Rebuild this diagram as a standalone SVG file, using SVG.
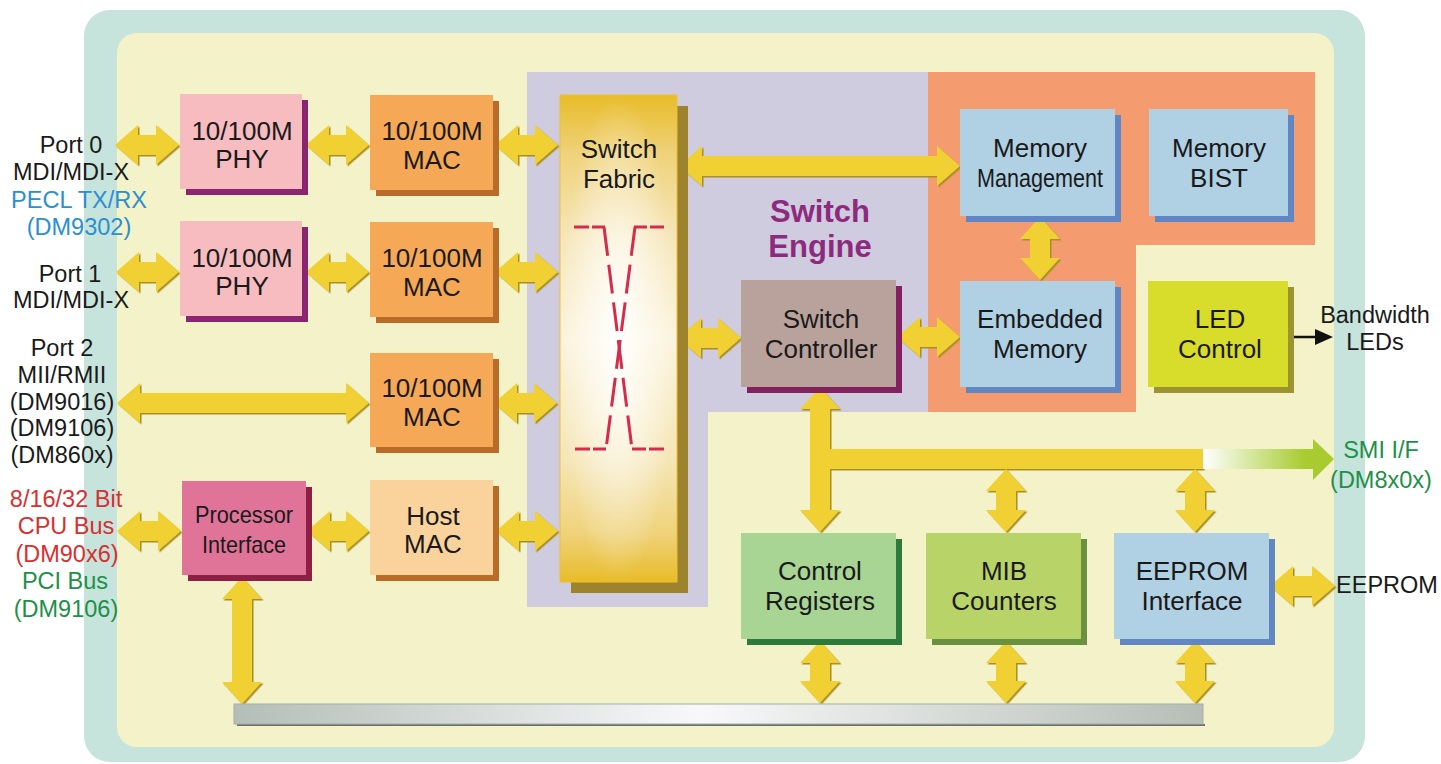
<svg xmlns="http://www.w3.org/2000/svg" width="1441" height="764" viewBox="0 0 1441 764">
<style>
.t{font-family:"Liberation Sans",Arial,sans-serif;font-size:23.5px;fill:#1a1a1a;text-anchor:middle}
.b{font-size:26px}
.eng{font-family:"Liberation Sans",Arial,sans-serif;font-size:31px;font-weight:bold;fill:#8e2a7e;text-anchor:middle}
.blue{fill:#2a90d0}.red{fill:#d83030}.green{fill:#1e9048}
.arr{fill:#f0d030;filter:url(#bev)}
.dash{fill:none;stroke:#d42c4a;stroke-width:3}
</style>
<defs>
<filter id="bev" x="-10%" y="-10%" width="130%" height="130%">
<feDropShadow dx="1.5" dy="1.5" stdDeviation="0" flood-color="#a88e28"/>
</filter>
<linearGradient id="fabV" x1="0" y1="0" x2="0" y2="1">
<stop offset="0" stop-color="#e8bc28"/>
<stop offset="0.12" stop-color="#efd27a"/>
<stop offset="0.3" stop-color="#f6e7bc"/>
<stop offset="0.5" stop-color="#fbf3dc"/>
<stop offset="0.75" stop-color="#f5e6b6"/>
<stop offset="0.9" stop-color="#efd27a"/>
<stop offset="1" stop-color="#e8bc28"/>
</linearGradient>
<radialGradient id="fabR" cx="0.5" cy="0.5" r="0.5">
<stop offset="0" stop-color="#ffffff" stop-opacity="1"/>
<stop offset="0.5" stop-color="#ffffff" stop-opacity="0.5"/>
<stop offset="1" stop-color="#ffffff" stop-opacity="0"/>
</radialGradient>
<linearGradient id="busG" x1="0" y1="0" x2="1" y2="0">
<stop offset="0" stop-color="#b4beb8"/>
<stop offset="0.48" stop-color="#f8f8fa"/>
<stop offset="1" stop-color="#b6beb6"/>
</linearGradient>
<linearGradient id="smiG" gradientUnits="userSpaceOnUse" x1="1203" y1="0" x2="1305" y2="0">
<stop offset="0" stop-color="#ffffff"/>
<stop offset="1" stop-color="#a8cc30"/>
</linearGradient>
</defs>

<g id="background">
<rect x="84" y="10" width="1281" height="752" rx="26" fill="#c6e4dc"/>
<rect x="117" y="33" width="1217" height="714" rx="20" fill="#f4f2c8"/>
<path d="M527,72 H928 V412 H708 V607 H527 Z" fill="#cfcce0"/>
<path d="M928,72 H1315 V245 H1136 V412 H928 Z" fill="#f49c70"/>
<text class="eng" x="820" y="222">Switch</text>
<text class="eng" x="820" y="257">Engine</text>
</g>

<g id="labels">
<text class="t" x="71" y="153">Port 0</text>
<text class="t" x="71" y="180">MDI/MDI-X</text>
<text class="t blue" x="79" y="208">PECL TX/RX</text>
<text class="t blue" x="79" y="235">(DM9302)</text>
<text class="t" x="70" y="282">Port 1</text>
<text class="t" x="71" y="308">MDI/MDI-X</text>
<text class="t" x="62" y="356">Port 2</text>
<text class="t" x="62" y="383">MII/RMII</text>
<text class="t" x="62" y="410">(DM9016)</text>
<text class="t" x="62" y="436">(DM9106)</text>
<text class="t" x="62" y="463">(DM860x)</text>
<text class="t red" x="66" y="507">8/16/32 Bit</text>
<text class="t red" x="66" y="534">CPU Bus</text>
<text class="t red" x="67" y="562">(DM90x6)</text>
<text class="t green" x="65" y="589">PCI Bus</text>
<text class="t green" x="66" y="617">(DM9106)</text>
<text class="t" x="1375" y="323">Bandwidth</text>
<text class="t" x="1375" y="350">LEDs</text>
<text class="t green" x="1381" y="458">SMI I/F</text>
<text class="t green" x="1381" y="488">(DM8x0x)</text>
<text class="t" x="1387" y="593">EEPROM</text>
</g>

<g id="connectors">
<path class="arr" d="M115,145 L138,125 L138,135 L156,135 L156,125 L179,145 L156,165 L156,155 L138,155 L138,165 Z"/>
<path class="arr" d="M306,145 L329,125 L329,135 L346,135 L346,125 L369,145 L346,165 L346,155 L329,155 L329,165 Z"/>
<path class="arr" d="M495,145 L518,125 L518,135 L535,135 L535,125 L558,145 L535,165 L535,155 L518,155 L518,165 Z"/>
<path class="arr" d="M116,272 L139,252 L139,262 L156,262 L156,252 L179,272 L156,292 L156,282 L139,282 L139,292 Z"/>
<path class="arr" d="M306,272 L329,252 L329,262 L346,262 L346,252 L369,272 L346,292 L346,282 L329,282 L329,292 Z"/>
<path class="arr" d="M495,272 L518,252 L518,262 L535,262 L535,252 L558,272 L535,292 L535,282 L518,282 L518,292 Z"/>
<path class="arr" d="M117,403 L140,383 L140,393 L346,393 L346,383 L369,403 L346,423 L346,413 L140,413 L140,423 Z"/>
<path class="arr" d="M494,403 L517,383 L517,393 L534,393 L534,383 L557,403 L534,423 L534,413 L517,413 L517,423 Z"/>
<path class="arr" d="M117,531 L140,511 L140,521 L158,521 L158,511 L181,531 L158,551 L158,541 L140,541 L140,551 Z"/>
<path class="arr" d="M307,531 L330,511 L330,521 L346,521 L346,511 L369,531 L346,551 L346,541 L330,541 L330,551 Z"/>
<path class="arr" d="M496,531 L519,511 L519,521 L535,521 L535,511 L558,531 L535,551 L535,541 L519,541 L519,551 Z"/>
<path class="arr" d="M679,166 L702,146 L702,156 L937,156 L937,146 L960,166 L937,186 L937,176 L702,176 L702,186 Z"/>
<path class="arr" d="M678,338 L701,318 L701,328 L718,328 L718,318 L741,338 L718,358 L718,348 L701,348 L701,358 Z"/>
<path class="arr" d="M897,337 L920,317 L920,327 L937,327 L937,317 L960,337 L937,357 L937,347 L920,347 L920,357 Z"/>
<path class="arr" d="M1270,586 L1293,566 L1293,576 L1312,576 L1312,566 L1335,586 L1312,606 L1312,596 L1293,596 L1293,606 Z"/>
<path class="arr" d="M1040,217 L1060,239 L1050,239 L1050,258 L1060,258 L1040,280 L1020,258 L1030,258 L1030,239 L1020,239 Z"/>
<path class="arr" d="M820,387 L840,409 L830,409 L830,449 L1203,449 L1203,469 L830,469 L830,510 L840,510 L820,532 L800,510 L810,510 L810,409 L800,409 Z"/>
<path fill="url(#smiG)" d="M1203,449 L1313,449 L1313,439 L1334,459 L1313,480 L1313,469 L1203,469 Z"/>
<path class="arr" d="M1006,469 L1026,491 L1016,491 L1016,510 L1026,510 L1006,532 L986,510 L996,510 L996,491 L986,491 Z"/>
<path class="arr" d="M1195,469 L1215,491 L1205,491 L1205,510 L1215,510 L1195,532 L1175,510 L1185,510 L1185,491 L1175,491 Z"/>
<path class="arr" d="M820,641 L840,663 L830,663 L830,681 L840,681 L820,703 L800,681 L810,681 L810,663 L800,663 Z"/>
<path class="arr" d="M1006,641 L1026,663 L1016,663 L1016,681 L1026,681 L1006,703 L986,681 L996,681 L996,663 L986,663 Z"/>
<path class="arr" d="M1195,641 L1215,663 L1205,663 L1205,681 L1215,681 L1195,703 L1175,681 L1185,681 L1185,663 L1175,663 Z"/>
<path class="arr" d="M242,577 L262,599 L252,599 L252,682 L262,682 L242,704 L222,682 L232,682 L232,599 L222,599 Z"/>
<line x1="1287" y1="337" x2="1318" y2="337" stroke="#111" stroke-width="2.5"/>
<polygon points="1315,329 1333,337 1315,345" fill="#111"/>
</g>

<g id="bus">
<line x1="237" y1="725" x2="1205" y2="725" stroke="#6c706c" stroke-width="2"/>
<rect x="234" y="704" width="969" height="20" fill="url(#busG)" stroke="#a6aea6" stroke-width="1"/>
</g>

<g id="phy0">
<rect x="186" y="100" width="122" height="95" fill="#8b2570"/>
<rect x="180" y="94" width="122" height="95" fill="#f6bcc0"/>
<text class="t b" x="242" y="140">10/100M</text><text class="t b" x="242" y="168">PHY</text>
</g>
<g id="phy1">
<rect x="186" y="227" width="122" height="95" fill="#8b2570"/>
<rect x="180" y="221" width="122" height="95" fill="#f6bcc0"/>
<text class="t b" x="242" y="267">10/100M</text><text class="t b" x="242" y="295">PHY</text>
</g>
<g id="mac0">
<rect x="376" y="101" width="123" height="95" fill="#b86c28"/>
<rect x="370" y="95" width="123" height="95" fill="#f5a855"/>
<text class="t b" x="432" y="140">10/100M</text><text class="t b" x="432" y="169">MAC</text>
</g>
<g id="mac1">
<rect x="376" y="228" width="123" height="95" fill="#b86c28"/>
<rect x="370" y="222" width="123" height="95" fill="#f5a855"/>
<text class="t b" x="432" y="267">10/100M</text><text class="t b" x="432" y="296">MAC</text>
</g>
<g id="mac2">
<rect x="376" y="359" width="123" height="94" fill="#b86c28"/>
<rect x="370" y="353" width="123" height="94" fill="#f5a855"/>
<text class="t b" x="432" y="397">10/100M</text><text class="t b" x="432" y="426">MAC</text>
</g>
<g id="hostmac">
<rect x="376" y="486" width="123" height="95" fill="#b86c28"/>
<rect x="370" y="480" width="123" height="95" fill="#fad29c"/>
<text class="t b" x="433" y="525">Host</text><text class="t b" x="433" y="553">MAC</text>
</g>
<g id="processor">
<rect x="188" y="487" width="124" height="94" fill="#8e2046"/>
<rect x="182" y="481" width="124" height="94" fill="#e07398"/>
<text class="t" x="244" y="523" style="font-size:24px" textLength="98" lengthAdjust="spacingAndGlyphs">Processor</text>
<text class="t" x="244" y="553" style="font-size:24px" textLength="84" lengthAdjust="spacingAndGlyphs">Interface</text>
</g>
<g id="fabric">
<rect x="571" y="106" width="117" height="487" fill="#9e832e"/>
<rect x="560" y="95" width="117" height="487" fill="url(#fabV)" stroke="#f0c030" stroke-width="1"/>
<rect x="560" y="95" width="117" height="487" fill="url(#fabR)"/>
<text class="t b" x="619" y="158">Switch</text><text class="t b" x="619" y="188">Fabric</text>
<path class="dash" d="M574,227 H605" stroke-dasharray="15 3"/>
<path class="dash" d="M634,227 H664" stroke-dasharray="13 3 14"/>
<path class="dash" d="M575,449 H606" stroke-dasharray="15 3"/>
<path class="dash" d="M632,449 H664" stroke-dasharray="14 3 15"/>
<path class="dash" d="M604,227 L632,449" stroke-dasharray="29 9"/>
<path class="dash" d="M635,227 L606,449" stroke-dasharray="29 9"/>
</g>
<g id="switchctrl">
<rect x="747" y="286" width="155" height="107" fill="#842060"/>
<rect x="741" y="280" width="155" height="107" fill="#baa29c"/>
<text class="t b" x="821" y="328">Switch</text><text class="t b" x="821" y="358">Controller</text>
</g>
<g id="memmgmt">
<rect x="966" y="115" width="155" height="107" fill="#6086c4"/>
<rect x="960" y="109" width="155" height="107" fill="#b0d0e4"/>
<text class="t b" x="1040" y="157">Memory</text>
<text class="t b" x="1040" y="187" textLength="126" lengthAdjust="spacingAndGlyphs">Management</text>
</g>
<g id="membist">
<rect x="1155" y="115" width="139" height="107" fill="#6086c4"/>
<rect x="1149" y="109" width="139" height="107" fill="#b0d0e4"/>
<text class="t b" x="1219" y="157">Memory</text><text class="t b" x="1219" y="187">BIST</text>
</g>
<g id="embedded">
<rect x="966" y="287" width="155" height="106" fill="#6086c4"/>
<rect x="960" y="281" width="155" height="106" fill="#b0d0e4"/>
<text class="t b" x="1040" y="328">Embedded</text><text class="t b" x="1040" y="358">Memory</text>
</g>
<g id="ledctrl">
<rect x="1154" y="287" width="140" height="106" fill="#9c9430"/>
<rect x="1148" y="281" width="140" height="106" fill="#d8dc2a"/>
<text class="t b" x="1220" y="328">LED</text><text class="t b" x="1220" y="358">Control</text>
</g>
<g id="ctrlregs">
<rect x="747" y="539" width="155" height="106" fill="#2e7a3a"/>
<rect x="741" y="533" width="155" height="106" fill="#a8d494"/>
<text class="t b" x="820" y="580">Control</text><text class="t b" x="820" y="610">Registers</text>
</g>
<g id="mib">
<rect x="932" y="539" width="155" height="106" fill="#6a9040"/>
<rect x="926" y="533" width="155" height="106" fill="#b8d468"/>
<text class="t b" x="1004" y="580">MIB</text><text class="t b" x="1004" y="610">Counters</text>
</g>
<g id="eepromif">
<rect x="1120" y="539" width="155" height="106" fill="#6086c4"/>
<rect x="1114" y="533" width="155" height="106" fill="#b0d0e4"/>
<text class="t b" x="1192" y="580">EEPROM</text><text class="t b" x="1192" y="610">Interface</text>
</g>
</svg>
